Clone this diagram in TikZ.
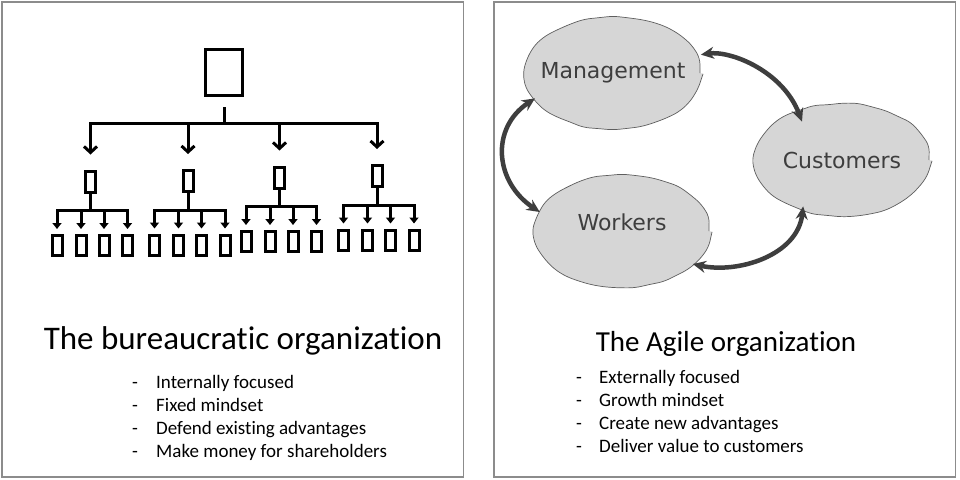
\documentclass[tikz,border=0pt]{standalone}
\usepackage{fontspec}
\setmainfont{Carlito}[Ligatures=NoCommon]
\newfontfamily\blobfont{DejaVu Sans}
\usetikzlibrary{arrows.meta}
\usetikzlibrary{shapes.geometric}
\usetikzlibrary{decorations.pathmorphing}

\definecolor{framegray}{HTML}{8C8C8C}
\definecolor{blobfill}{HTML}{D6D6D6}
\definecolor{blobline}{HTML}{5E5E5E}
\definecolor{linkgray}{HTML}{3E3E3E}

\begin{document}
\begin{tikzpicture}[
		x=1pt,
		y=-1pt,
		frame/.style={draw=framegray, line width=1.6pt},
		box/.style={draw, rectangle, line width=3pt, inner sep=0pt, minimum width=10pt, minimum height=21pt},
		leafbox/.style={box, minimum height=20pt},
		wire/.style={line width=3pt},
		bigtip/.style={wire, -{Straight Barb[length=6pt,width=13pt]}, shorten >=15pt},
		smalltip/.style={wire, -{Triangle[length=6pt,width=9pt]}, shorten >=5pt},
		blob/.style={ellipse, fill=blobfill, draw=blobline, line width=0.7pt, inner xsep=-14pt, inner ysep=0pt,
			minimum width=174pt, minimum height=112pt, text=linkgray, font=\blobfont\fontsize{22}{26}\selectfont,
			decorate, decoration={random steps, segment length=14pt, amplitude=1pt}, rounded corners=6pt},
		link/.style={draw=linkgray, line width=4.5pt, arrows={Stealth[length=13pt,width=12pt]-Stealth[length=13pt,width=12pt]}},
		title/.style={inner sep=0pt, anchor=base, font=\fontsize{33}{40}\selectfont},
		item/.style={inner sep=0pt, font=\fontsize{19}{23}\selectfont}
	]
		\pgfmathsetseed{11}
		\fill[white] (0,0) rectangle (960,479);
		\useasboundingbox (0,0) rectangle (960,479);
		\draw[frame] (2,2) rectangle (463.5,477);
		\draw[frame] (494,2) rectangle (955.5,477);

		\node[box, minimum width=37pt, minimum height=46pt] (boss) at (224,72.5) {};
		\coordinate (hub) at (224,123);
		\foreach \mx/\my [count=\i] in {90.5/181.5, 188/181, 279.5/177.5, 377/176} {
			\node[box] (mid\i) at (\mx,\my) {};
			\coordinate (sub\i) at (\mx,\my+29);
			\foreach \dx [count=\j] in {-33.5,-9.5,13.5,37}
				\node[leafbox] (leaf\i\j) at (\mx+\dx,\my+64) {};
			\draw[wire] (mid\i.south) -- (sub\i);
			\draw[wire, {Triangle[length=6pt,width=9pt]}-{Triangle[length=6pt,width=9pt]}, shorten <=5pt, shorten >=5pt]
				(leaf\i1.north) |- (sub\i) -| (leaf\i4.north);
			\draw[smalltip] (leaf\i2.north |- sub\i) -- (leaf\i2.north);
			\draw[smalltip] (leaf\i3.north |- sub\i) -- (leaf\i3.north);
		}
		\draw[wire, shorten <=10pt] (boss.south) -- (hub);
		\draw[wire, {Straight Barb[length=6pt,width=13pt]}-{Straight Barb[length=6pt,width=13pt]}, shorten <=15pt, shorten >=15pt]
			(mid1.north) |- (hub) -| (mid4.north);
		\draw[bigtip] (mid2.north |- hub) -- (mid2.north);
		\draw[bigtip] (mid3.north |- hub) -- (mid3.north);

		\node[title] (burtitle) at (243,349) {The bureaucratic organization};
		\foreach \txt [count=\k] in {Internally focused, Fixed mindset, Defend existing advantages, Make money for shareholders} {
			\node[item, anchor=base] (burdash\k) at (135,365+23*\k) {-};
			\node[item, anchor=base west] (bur\k) at (156,365+23*\k) {\txt};
		}

		\node[blob] (mgmt) at (613,73) {Management};
		\node[blob, text depth=18pt] (workers) at (622,231) {Workers};
		\node[blob] (cust) at (842,160) {Customers};
		\draw[link, shorten <=5pt, shorten >=-11pt] (mgmt.12) .. controls +(35,-5) and +(-15,-40) .. (cust.132);
		\draw[link] (mgmt.198) .. controls +(-45,30) and +(-45,-30) .. (workers.167);
		\draw[link, shorten >=-4pt] (workers.335) .. controls +(45,10) and +(-5,45) .. (cust.232);

		\node[title, font=\fontsize{29}{34}\selectfont] (agiletitle) at (726,351) {The Agile organization};
		\foreach \txt [count=\k] in {Externally focused, Growth mindset, Create new advantages, Deliver value to customers} {
			\node[item, anchor=base] (agdash\k) at (579,360+23*\k) {-};
			\node[item, anchor=base west] (ag\k) at (599,360+23*\k) {\txt};
		}
	\end{tikzpicture}
\end{document}
